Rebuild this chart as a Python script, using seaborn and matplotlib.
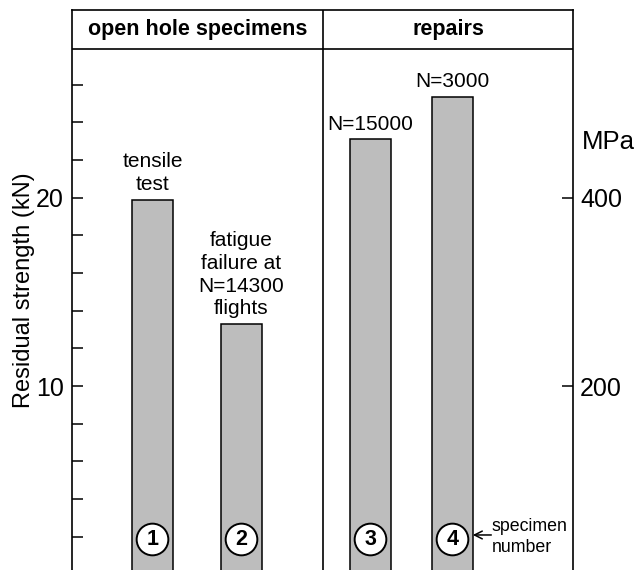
import matplotlib
matplotlib.use("Agg")
import matplotlib.pyplot as plt
import seaborn as sns
import pandas as pd

# ---- data ----
specimens = ["1", "2", "3", "4"]
strength_kN = [19.9, 13.3, 23.1, 25.35]
notes = ["tensile\ntest", "fatigue\nfailure at\nN=14300\nflights", "N=15000", "N=3000"]
groups = ["open hole specimens", "repairs"]
left_ticks_major = [10, 20]
left_ticks_minor = [2, 4, 6, 8, 12, 14, 16, 18, 22, 24, 26]
right_ticks = [200, 400]
kN_to_MPa = 20.0

# ---- layout (horizontal positions, pixel-like units across the frame) ----
bar_pos = [80.4, 169.5, 298.5, 380.3]
divider_x = 251
x_max = 501
y_lo, y_hi = 0.23, 29.97
header_y = 27.92
circle_y = 1.87

sns.set_style("ticks")
plt.rcParams["font.family"] = ["Liberation Sans", "DejaVu Sans"]
plt.rcParams["text.color"] = "black"
plt.rcParams["axes.labelcolor"] = "black"
plt.rcParams["ytick.color"] = "black"
plt.rcParams["ytick.labelcolor"] = "black"

df = pd.DataFrame({"pos": bar_pos, "strength": strength_kN, "specimen": specimens})

fig = plt.figure(figsize=(6.39, 5.70), dpi=100)
ax = fig.add_axes([72 / 639, 0.0, 501 / 639, 560 / 570])

sns.barplot(data=df, x="pos", y="strength", native_scale=True, width=0.5,
            color="#bdbdbd", saturation=1, edgecolor="black", linewidth=1.1,
            errorbar=None, ax=ax, zorder=2)
for p in ax.patches:
    p.set_facecolor("#bdbdbd")

ax.set_xlim(0, x_max)
ax.set_ylim(y_lo, y_hi)
ax.set_xticks([])
ax.set_xlabel("")
for s in ["left", "top", "right"]:
    ax.spines[s].set_linewidth(1.2)
    ax.spines[s].set_color("black")
ax.spines["bottom"].set_visible(False)

ax.set_yticks(left_ticks_major)
ax.set_yticks(left_ticks_minor, minor=True)
ax.tick_params(axis="y", which="both", direction="in", length=8, width=1.1,
               color="black", labelcolor="black", labelsize=18, pad=6)
ax.set_ylabel("Residual strength (kN)", fontsize=17, color="black")
ax.yaxis.set_label_coords(-0.074, 0.5)

# header band
ax.axhline(header_y, color="black", lw=1.2, zorder=3)
ax.axvline(divider_x, color="black", lw=1.2, zorder=3)
ax.text(divider_x / 2, (header_y + y_hi) / 2, groups[0], ha="center", va="center",
        fontsize=15.5, fontweight="bold", color="black")
ax.text((divider_x + x_max) / 2, (header_y + y_hi) / 2, groups[1], ha="center",
        va="center", fontsize=15.5, fontweight="bold", color="black")

# bar notes
for x, h, t in zip(bar_pos, strength_kN, notes):
    ax.annotate(t, xy=(x, h), xytext=(0, 4), textcoords="offset points",
                ha="center", va="bottom", fontsize=15, color="black",
                linespacing=1.25)

# specimen number circles
ax.scatter(bar_pos, [circle_y] * len(bar_pos), s=520, facecolor="white",
           edgecolor="black", linewidth=1.4, zorder=4)
for x, sp in zip(bar_pos, specimens):
    ax.text(x, circle_y, sp, ha="center", va="center", fontsize=15.5,
            fontweight="bold", color="black", zorder=5)

ax.annotate("", xy=(bar_pos[3] + 20.5, 2.09), xytext=(bar_pos[3] + 39, 2.09),
            arrowprops=dict(arrowstyle="->", lw=1.1, color="black",
                            shrinkA=0, shrinkB=0, mutation_scale=14))
ax.text(bar_pos[3] + 39.5, 1.98, "specimen\nnumber", ha="left", va="center",
        fontsize=12.8, linespacing=1.3, color="black")

# right MPa axis
ax2 = ax.twinx()
ax2.set_ylim(y_lo * kN_to_MPa, y_hi * kN_to_MPa)
ax2.set_yticks(right_ticks)
ax2.tick_params(axis="y", direction="in", length=8, width=1.1, color="black",
                labelcolor="black", labelsize=18, pad=5)
for s in ax2.spines.values():
    s.set_visible(False)
ax2.text(1.018, 459, "MPa", transform=ax2.get_yaxis_transform(), ha="left",
         va="center", fontsize=18.5, color="black")

fig.savefig("out.png", dpi=100)
